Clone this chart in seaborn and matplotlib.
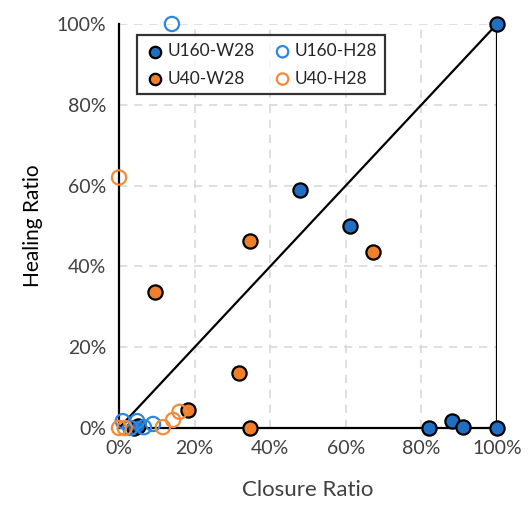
import pandas as pd
import numpy as np
import matplotlib.pyplot as plt
import seaborn as sns
from matplotlib.ticker import PercentFormatter

# valores (fracción)
u160_w28_x = [1.00, 0.48, 0.61, 0.82, 0.88, 0.91, 1.00, 0.04, 0.05]
u160_w28_y = [1.00, 0.59, 0.50, 0.00, 0.017, 0.003, 0.00, 0.00, 0.005]

u160_h28_x = [0.14, 0.01, 0.048, 0.066, 0.09, 0.03]
u160_h28_y = [1.00, 0.017, 0.017, 0.002, 0.01, 0.00]

u40_w28_x = [0.095, 0.347, 0.317, 0.183, 0.347, 0.672]
u40_w28_y = [0.337, 0.463, 0.136, 0.045, 0.00, 0.436]

u40_h28_x = [0.00, 0.00, 0.015, 0.116, 0.143, 0.16]
u40_h28_y = [0.62, 0.00, 0.00, 0.002, 0.02, 0.04]

# línea de referencia
ref_x = [0, 1, 1]
ref_y = [0, 1, 0]

series = ["U160-W28", "U160-H28", "U40-W28", "U40-H28"]
data = pd.concat([
    pd.DataFrame({"closure": u160_w28_x, "healing": u160_w28_y, "serie": "U160-W28"}),
    pd.DataFrame({"closure": u160_h28_x, "healing": u160_h28_y, "serie": "U160-H28"}),
    pd.DataFrame({"closure": u40_w28_x, "healing": u40_w28_y, "serie": "U40-W28"}),
    pd.DataFrame({"closure": u40_h28_x, "healing": u40_h28_y, "serie": "U40-H28"}),
], ignore_index=True)

sns.set_style("white")
plt.rcParams['font.family'] = ['Lato', 'DejaVu Sans']

fig = plt.figure(figsize=(5.29, 5.05), dpi=100)
ax = fig.add_axes([0.225, 0.1525, 0.7145, 0.80])

for x in [0.2, 0.4, 0.6, 0.8, 1.0]:
    ax.axvline(x, color='#d9d9d9', linestyle=(0, (5, 4)), linewidth=1.2, zorder=0)
    ax.axhline(x, color='#d9d9d9', linestyle=(0, (5, 4)), linewidth=1.2, zorder=0)

ax.plot(ref_x, ref_y, color='black', linewidth=1.6, zorder=1)

style = {
    "U160-W28": dict(facecolor='#1f6fc4', edgecolor='black', lw=1.6),
    "U160-H28": dict(facecolor='none', edgecolor='#2e86de', lw=1.6),
    "U40-W28": dict(facecolor='#f07f2c', edgecolor='black', lw=1.6),
    "U40-H28": dict(facecolor='none', edgecolor='#f5893a', lw=1.6),
}
handles = {}
for s in series:
    d = data[data["serie"] == s]
    st = style[s]
    handles[s] = ax.scatter(d["closure"], d["healing"], s=105, facecolors=st["facecolor"],
                            edgecolors=st["edgecolor"], linewidths=st["lw"], label=s,
                            zorder=3, clip_on=False)

ax.set_xlim(0, 1)
ax.set_ylim(0, 1)
ax.set_xticks(np.arange(0, 1.01, 0.2))
ax.set_yticks(np.arange(0, 1.01, 0.2))
ax.xaxis.set_major_formatter(PercentFormatter(1.0, decimals=0))
ax.yaxis.set_major_formatter(PercentFormatter(1.0, decimals=0))
ax.tick_params(direction='inout', length=10, width=1.6, color='black',
               labelsize=14, labelcolor='#404040', pad=4)

for side in ['top', 'right']:
    ax.spines[side].set_visible(False)
for side in ['left', 'bottom']:
    ax.spines[side].set_color('black')
    ax.spines[side].set_linewidth(1.6)

ax.set_xlabel("Closure Ratio", fontsize=16, color='#404040', labelpad=16)
ax.set_ylabel("Healing Ratio", fontsize=15, color='black', labelpad=10)

# orden por columnas para que quede U160 arriba y U40 abajo
orden = ["U160-W28", "U40-W28", "U160-H28", "U40-H28"]
leg = ax.legend([handles[s] for s in orden], orden, ncol=2, loc='upper left',
                bbox_to_anchor=(0.025, 0.993),
                fontsize=12.5, frameon=True, fancybox=False, handletextpad=0.1,
                columnspacing=1.0, borderpad=0.45, labelspacing=0.65,
                handlelength=1.2, markerscale=0.8)
leg.get_frame().set_edgecolor('black')
leg.get_frame().set_linewidth(1.6)
leg.set_zorder(5)

fig.savefig("out.png", dpi=100)
